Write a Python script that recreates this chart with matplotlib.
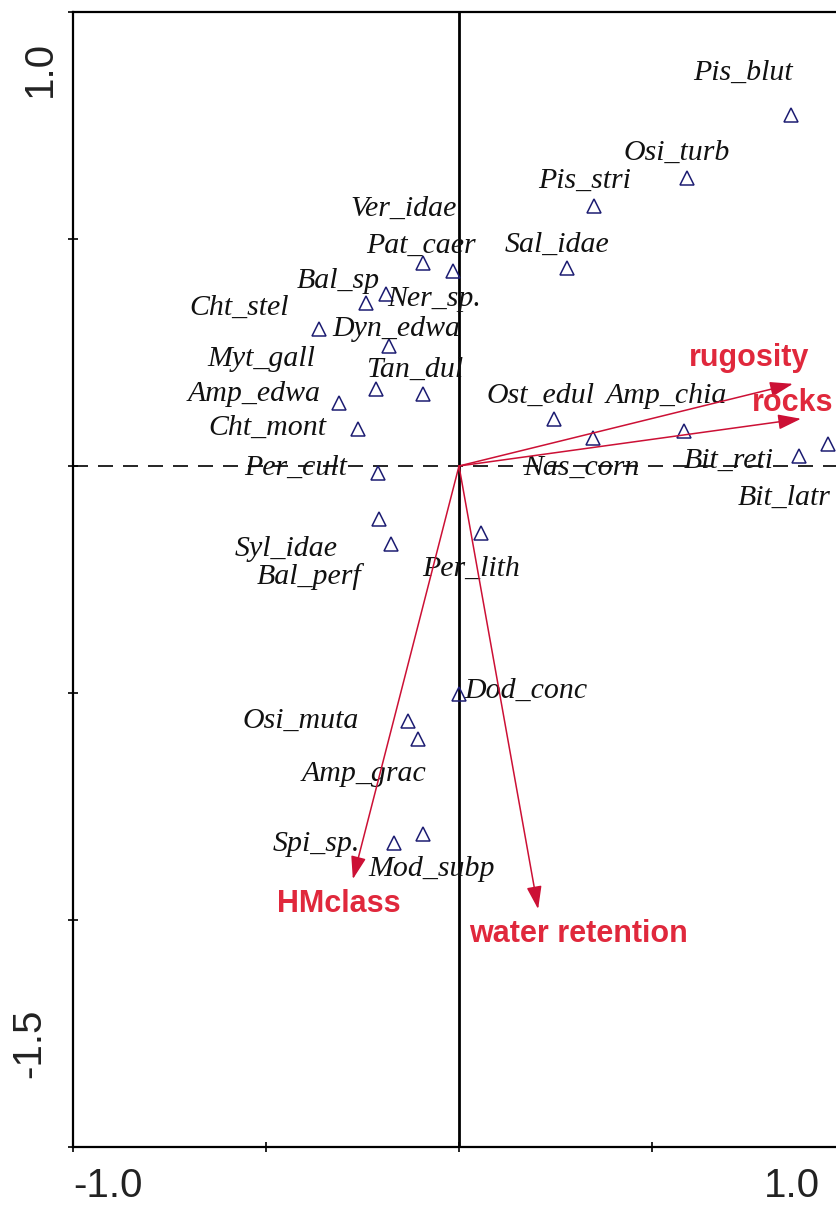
import matplotlib
matplotlib.use("Agg")
import matplotlib.pyplot as plt

# species scores on the first two ordination axes
species = [
    "Pis_blut", "Osi_turb", "Pis_stri", "Sal_idae", "Ver_idae", "Pat_caer",
    "Bal_sp", "Ner_sp.", "Cht_stel", "Dyn_edwa", "Myt_gall", "Tan_dul",
    "Amp_edwa", "Cht_mont", "Per_cult", "Syl_idae", "Bal_perf", "Per_lith",
    "Dod_conc", "Osi_muta", "Amp_grac", "Spi_sp.", "Mod_subp", "Ost_edul",
    "Nas_corn", "Amp_chia", "Bit_reti", "Bit_latr",
]
axis1 = [
    0.860, 0.591, 0.350, 0.280, -0.016, -0.093,
    -0.241, -0.189, -0.363, -0.181, -0.215, -0.093,
    -0.311, -0.262, -0.210, -0.207, -0.176, 0.057,
    0.000, -0.132, -0.106, -0.168, -0.093, 0.246,
    0.347, 0.583, 0.881, 0.956,
]
axis2 = [
    0.773, 0.634, 0.573, 0.436, 0.430, 0.447,
    0.359, 0.379, 0.302, 0.264, 0.170, 0.159,
    0.139, 0.081, -0.015, -0.117, -0.172, -0.148,
    -0.502, -0.562, -0.601, -0.830, -0.811, 0.104,
    0.062, 0.077, 0.022, 0.048,
]

# environmental variables (biplot arrows)
env_names = ["rugosity", "rocks", "HMclass", "water retention"]
env_axis1 = [0.865, 0.886, -0.275, 0.205]
env_axis2 = [0.181, 0.104, -0.910, -0.976]

# label offsets from the marker, in pixels (dx right, dy down)
label_offsets = {
    "Pis_blut": (-48, -42), "Osi_turb": (-10, -25), "Pis_stri": (-10, -25),
    "Sal_idae": (-10, -23), "Ver_idae": (-49, -62), "Pat_caer": (-2, -17),
    "Bal_sp": (-28, -22), "Ner_sp.": (48, 5), "Cht_stel": (-80, -21),
    "Dyn_edwa": (7, -17), "Myt_gall": (-115, -30), "Tan_dul": (-8, -24),
    "Amp_edwa": (-85, -9), "Cht_mont": (-91, -1), "Per_cult": (-82, -5),
    "Syl_idae": (-93, 30), "Bal_perf": (-82, 32), "Per_lith": (-10, 36),
    "Dod_conc": (67, -3), "Osi_muta": (-107, 0), "Amp_grac": (-54, 35),
    "Spi_sp.": (-78, 1), "Mod_subp": (8, 35), "Ost_edul": (-13, -23),
    "Nas_corn": (-12, 30), "Amp_chia": (-18, -35), "Bit_reti": (-70, 5),
    "Bit_latr": (-44, 54),
}
env_offsets = {
    "rugosity": (-44, -26), "rocks": (-8, -16),
    "HMclass": (-14, 25), "water retention": (40, 25),
}

PX = 0.72  # points per pixel at dpi 100
ARROW_RED = "#cc1035"
LABEL_RED = "#e0283c"

fig = plt.figure(figsize=(8.37, 12.07), dpi=100)
ax = fig.add_axes([73 / 837, 60 / 1207, 772 / 837, 1135 / 1207])
ax.set_xlim(-1.0, 1.0)
ax.set_ylim(-1.5, 1.0)

for side in ["left", "bottom", "top"]:
    ax.spines[side].set_linewidth(1.6)
ax.spines["right"].set_visible(False)

ax.set_xticks([-1.0, -0.5, 0.0, 0.5, 1.0])
ax.set_yticks([-1.5, -1.0, -0.5, 0.0, 0.5, 1.0])
ax.set_xticklabels([])
ax.set_yticklabels([])
ax.tick_params(direction="inout", length=7, width=1.2)

# axis end labels, set inside the corners
tick_font = dict(family="Liberation Sans", fontsize=29, color="#222222")
ax.annotate("-1.0", (0, 0), xycoords="axes fraction", xytext=(35 * PX, -39 * PX),
            textcoords="offset points", ha="center", va="center", **tick_font)
ax.annotate("1.0", (1, 0), xycoords="axes fraction", xytext=(-53 * PX, -39 * PX),
            textcoords="offset points", ha="center", va="center", **tick_font)
ax.annotate("1.0", (0, 1), xycoords="axes fraction", xytext=(-33 * PX, -57 * PX),
            textcoords="offset points", ha="center", va="center", rotation=90, **tick_font)
ax.annotate("-1.5", (0, 0), xycoords="axes fraction", xytext=(-44 * PX, 104 * PX),
            textcoords="offset points", ha="center", va="center", rotation=90, **tick_font)

ax.axvline(0, color="black", lw=2.0, zorder=1)
ax.axhline(0, color="black", lw=1.2, ls=(0, (9, 6)), zorder=1)

ax.plot(axis1, axis2, ls="none", marker="^", ms=9.5, mfc="none", mec="#1c1c72",
        mew=1.1, zorder=3)

for name, x, y in zip(species, axis1, axis2):
    dx, dy = label_offsets[name]
    ax.annotate(name, (x, y), xytext=(dx * PX, -dy * PX), textcoords="offset points",
                ha="center", va="center", family="Liberation Serif",
                style="italic", fontsize=21.5, color="#111111", zorder=4)

for name, x, y in zip(env_names, env_axis1, env_axis2):
    ax.annotate("", xy=(x, y), xytext=(0, 0),
                arrowprops=dict(arrowstyle="-|>,head_length=1.0,head_width=0.33",
                                mutation_scale=14, color=ARROW_RED, lw=1.1,
                                shrinkA=0, shrinkB=0),
                zorder=5)
    dx, dy = env_offsets[name]
    ax.annotate(name, (x, y), xytext=(dx * PX, -dy * PX), textcoords="offset points",
                ha="center", va="center", family="Liberation Sans",
                fontweight="bold", fontsize=22, color=LABEL_RED, zorder=6)

fig.savefig("out.png", dpi=100)
